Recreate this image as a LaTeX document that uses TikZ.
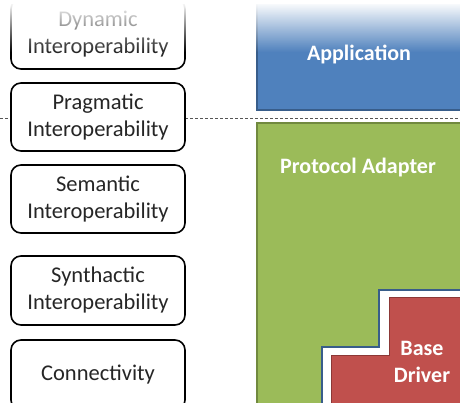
\documentclass[tikz,border=0pt]{standalone}
\usepackage{fontspec}
\setmainfont{Carlito}
\usetikzlibrary{fadings}
\definecolor{appblue}{HTML}{4F81BD}
\definecolor{appedge}{HTML}{385D8A}
\definecolor{adgreen}{HTML}{9BBB59}
\definecolor{adedge}{HTML}{71893F}
\definecolor{drvred}{HTML}{C0504D}
\definecolor{drvedge}{HTML}{8C3836}
\definecolor{dashgray}{HTML}{555555}
\tikzfading[name=topveil, top color=transparent!0, bottom color=transparent!100]
\tikzset{
  layerbox/.style={draw=black, line width=1.6pt, rounded corners=10pt, fill=white,
    minimum width=174pt, minimum height=68pt, align=center,
    font=\fontsize{22.5}{27}\selectfont, text=black!85},
  blocklabel/.style={text=white, align=center, font=\fontsize{22}{27}\selectfont\bfseries},
}
\begin{document}
\begin{tikzpicture}[x=1pt,y=-1pt]
\useasboundingbox (0,0) rectangle (460,403);
\clip (0,0) rectangle (460,403);

% boundary between application and adapter layers
\coordinate (dl) at (0,118);
\coordinate (dr) at (460,118);
\draw[dashgray, line width=0.7pt, dash pattern=on 3pt off 2pt] (dl) -- (dr);

% interoperability levels
\node[layerbox, minimum height=70pt] (dyn)  at (98,34)    {Dynamic\\Interoperability};
\node[layerbox] (prag) at (98,117)   {Pragmatic\\Interoperability};
\node[layerbox] (sem)  at (98,199)   {Semantic\\Interoperability};
\node[layerbox, minimum height=69pt] (syn)  at (98,290.5) {Synthactic\\Interoperability};
\node[layerbox, minimum height=70pt] (con)  at (98,375)   {Connectivity};

% application block
\fill[appblue] (257,0) rectangle (470,110);
\draw[appedge, line width=1.6pt] (257,0) -- (257,110) -- (470,110);
\node[blocklabel] (app) at (359,54) {Application};

% protocol adapter block
\fill[adgreen] (257,123) rectangle (470,420);
\draw[adedge, line width=1.4pt] (470,123) -- (257,123) -- (257,420);
\node[blocklabel] (pa) at (358,168) {Protocol Adapter};

% base driver, stepped outline
\fill[white] (322,420) -- (322,347) -- (379,347) -- (379,290) -- (470,290) -- (470,420) -- cycle;
\draw[appedge, line width=1.6pt] (322,420) -- (322,347) -- (379,347) -- (379,290) -- (470,290);
\fill[drvred] (331,420) -- (331,355) -- (389,355) -- (389,297) -- (470,297) -- (470,420) -- cycle;
\draw[drvedge, line width=1pt] (331,420) -- (331,355) -- (389,355) -- (389,297) -- (470,297);
\node[blocklabel] (bd) at (422,362) {Base\\Driver};

% soft fade along the top edge
\fill[white, path fading=topveil] (0,2) rectangle (460,52);
\fill[white] (0,0) rectangle (460,4);
\end{tikzpicture}
\end{document}
